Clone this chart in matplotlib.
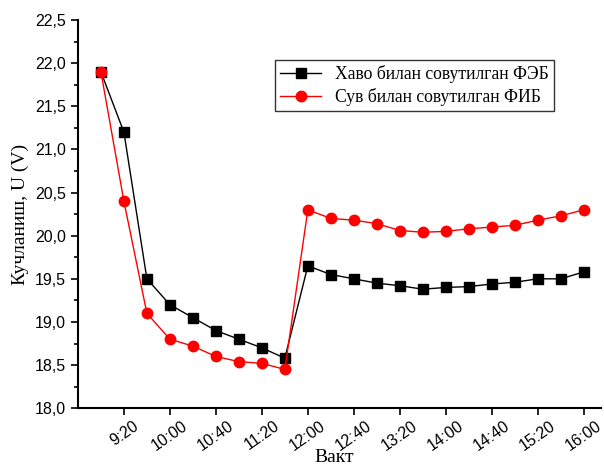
import matplotlib
matplotlib.use("Agg")
import matplotlib.pyplot as plt
import matplotlib.transforms as mtransforms
from matplotlib.ticker import MultipleLocator, FixedLocator

# time of measurement, minutes from midnight (9:00 .. 16:00, step 20 min)
time_labels = ["9:00", "9:20", "9:40", "10:00", "10:20", "10:40", "11:00", "11:20",
               "11:40", "12:00", "12:20", "12:40", "13:00", "13:20", "13:40", "14:00",
               "14:20", "14:40", "15:00", "15:20", "15:40", "16:00"]
minutes = [int(t.split(":")[0]) * 60 + int(t.split(":")[1]) for t in time_labels]

# voltage, V
u_air = [21.9, 21.2, 19.5, 19.2, 19.05, 18.9, 18.8, 18.7, 18.58, 19.65, 19.55,
         19.5, 19.45, 19.42, 19.38, 19.4, 19.41, 19.44, 19.46, 19.5, 19.5, 19.58]
u_water = [21.9, 20.4, 19.1, 18.8, 18.72, 18.6, 18.54, 18.52, 18.45, 20.3, 20.2,
           20.18, 20.14, 20.06, 20.04, 20.05, 20.08, 20.1, 20.12, 20.18, 20.23, 20.3]

label_air = "Хаво билан совутилган ФЭБ"
label_water = "Сув билан совутилган ФИБ"

tick_labels = ["9:20", "10:00", "10:40", "11:20", "12:00", "12:40", "13:20",
               "14:00", "14:40", "15:20", "16:00"]
tick_pos = [int(t.split(":")[0]) * 60 + int(t.split(":")[1]) for t in tick_labels]

fig = plt.figure(figsize=(6.04, 4.66), dpi=100)
ax = fig.add_axes([0.129, 0.124, 0.866, 0.833])

ax.plot(minutes, u_air, color="black", lw=1, marker="s", ms=6.5, label=label_air)
ax.plot(minutes, u_water, color="red", lw=1, marker="o", ms=7.5, label=label_water)

ax.set_xlim(520, 975)
ax.set_ylim(18.0, 22.5)

ax.xaxis.set_major_locator(FixedLocator(tick_pos))
ax.set_xticklabels(tick_labels, rotation=35, ha="center",
                   family="Liberation Sans", fontsize=11.5)
shift = mtransforms.ScaledTranslation(4 / 100, 0, fig.dpi_scale_trans)
for lbl in ax.get_xticklabels():
    lbl.set_transform(lbl.get_transform() + shift)
ax.yaxis.set_major_locator(MultipleLocator(0.5))
ax.yaxis.set_minor_locator(MultipleLocator(0.25))
ax.set_yticklabels([f"{v:.1f}".replace(".", ",") for v in ax.get_yticks()],
                   family="Liberation Sans", fontsize=11.5)

ax.tick_params(axis="both", which="major", direction="out", length=5, width=1.2)
ax.tick_params(axis="x", which="major", pad=2)
ax.tick_params(axis="y", which="minor", direction="out", length=3, width=1.2)

for side in ["top", "right"]:
    ax.spines[side].set_visible(False)
for side in ["left", "bottom"]:
    ax.spines[side].set_linewidth(1.5)

ax.set_xlabel("Вакт", family="Liberation Serif", fontsize=14)
ax.xaxis.set_label_coords(0.49, -0.105)
ax.set_ylabel("Кучланиш, U (V)", family="Liberation Serif", fontsize=14, labelpad=4)

leg = ax.legend(loc="upper left", bbox_to_anchor=(0.377, 0.897), frameon=True,
                fancybox=False, edgecolor="black", prop={"family": "Liberation Serif", "size": 12.7},
                handlelength=2.3, borderpad=0.3, labelspacing=0.25, borderaxespad=0)
leg.get_frame().set_linewidth(1.0)

fig.savefig("out.png", dpi=100)
